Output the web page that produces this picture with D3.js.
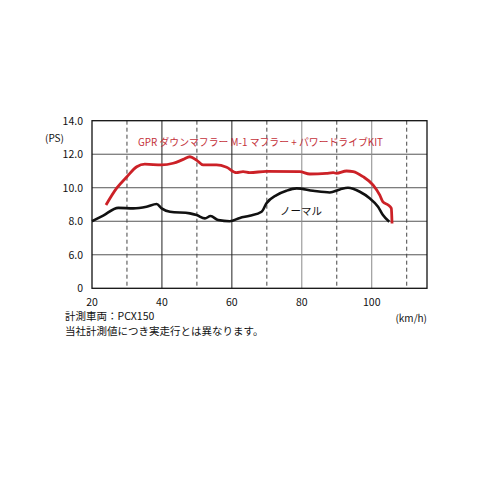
<!DOCTYPE html>
<html lang="ja">
<head>
<meta charset="UTF-8">
<title>PCX150 power chart</title>
<script src="https://d3js.org/d3.v7.min.js"></script>
<style>
  body { margin: 0; background: #fff; }
  text { font-family: "Noto Sans CJK JP", "DejaVu Sans", sans-serif; }
</style>
</head>
<body>
<div id="chart"></div>
<script>
// speed (km/h) and power (PS)
const kitSpeed = [24, 27, 30, 32.8, 35.1, 39.9, 43.2, 46.1, 48, 49.9, 51.8, 55.6, 58.5, 61.3, 63.2, 65.1, 69.9, 79.4, 82.3, 87, 89, 89.9, 92.8, 94.7, 97.5, 100.4, 102.3, 103.2, 104.7, 105.6, 105.8];
const kitPower = [8.97, 9.96, 10.66, 11.25, 11.41, 11.36, 11.46, 11.69, 11.85, 11.65, 11.36, 11.36, 11.22, 10.9, 10.96, 10.9, 10.98, 10.96, 10.82, 10.86, 10.9, 10.86, 11.0, 10.96, 10.66, 10.16, 9.56, 9.16, 8.97, 8.77, 7.87];

const normalSpeed = [20, 23.2, 27.5, 31.8, 35.6, 38.5, 39.9, 42.3, 48, 49.9, 52.3, 53.9, 56.1, 59.4, 62.3, 65.1, 68.5, 69.9, 72.8, 75.6, 78.5, 83.2, 88, 90.9, 93.2, 96.6, 99.4, 101.8, 103.2, 105];
const normalPower = [8.0, 8.34, 8.8, 8.77, 8.87, 9.03, 8.77, 8.57, 8.47, 8.37, 8.17, 8.31, 8.07, 8.0, 8.2, 8.33, 8.57, 9.07, 9.56, 9.82, 9.96, 9.82, 9.72, 9.9, 10.0, 9.76, 9.37, 8.87, 8.37, 7.97];

const xTicks = [20, 40, 60, 80, 100];
const xDashed = [30, 50, 70, 90, 110];
const yTicks = [14, 12, 10, 8, 6, 4];
const yTickLabels = ["14.0", "12.0", "10.0", "8.0", "6.0", "0"];

const kitLabel = "GPR ダウンマフラー M-1 マフラー + パワードライブKIT";
const normalLabel = "ノーマル";
const notes = ["計測車両：PCX150", "当社計測値につき実走行とは異なります。"];

const W = 500, H = 500;
const plot = {left: 92, right: 427, top: 120.7, bottom: 288.3};

const svg = d3.select("#chart").append("svg")
    .attr("width", W)
    .attr("height", H);

const x = d3.scaleLinear().domain([20, 115.8]).range([plot.left, plot.right]);
const y = d3.scaleLinear().domain([4, 14]).range([plot.bottom, plot.top]);

// horizontal grid lines
svg.append("g")
  .selectAll("line")
  .data(yTicks.filter(d => d > 4 && d < 14))
  .join("line")
    .attr("x1", plot.left).attr("x2", plot.right)
    .attr("y1", d => y(d)).attr("y2", d => y(d))
    .attr("stroke", "#555")
    .attr("stroke-width", 1);

// solid vertical lines
svg.append("g")
  .selectAll("line")
  .data(xTicks.filter(d => d > 20))
  .join("line")
    .attr("x1", d => x(d)).attr("x2", d => x(d))
    .attr("y1", plot.top).attr("y2", plot.bottom)
    .attr("stroke", d => d >= 80 ? "#8a8a8a" : "#222")
    .attr("stroke-width", 1);

// dashed vertical lines
svg.append("g")
  .selectAll("line")
  .data(xDashed)
  .join("line")
    .attr("x1", d => x(d)).attr("x2", d => x(d))
    .attr("y1", plot.top).attr("y2", plot.bottom)
    .attr("stroke", "#444")
    .attr("stroke-width", 1)
    .attr("stroke-dasharray", "4,3");

// frame
svg.append("rect")
    .attr("x", plot.left).attr("y", plot.top)
    .attr("width", plot.right - plot.left).attr("height", plot.bottom - plot.top)
    .attr("fill", "none")
    .attr("stroke", "#111")
    .attr("stroke-width", 1.3);

// y tick labels
svg.append("g")
  .selectAll("text")
  .data(yTicks)
  .join("text")
    .attr("x", 83)
    .attr("y", d => y(d) + 4)
    .attr("text-anchor", "end")
    .attr("font-size", 10.5)
    .attr("fill", "#111")
    .text((d, i) => yTickLabels[i]);

svg.append("text")
    .attr("x", 45).attr("y", 142)
    .attr("font-size", 10)
    .attr("fill", "#111")
    .text("(PS)");

// x tick labels
svg.append("g")
  .selectAll("text")
  .data(xTicks)
  .join("text")
    .attr("x", d => x(d))
    .attr("y", 306)
    .attr("text-anchor", "middle")
    .attr("font-size", 10.5)
    .attr("fill", "#111")
    .text(d => d);

svg.append("text")
    .attr("x", 427).attr("y", 322)
    .attr("text-anchor", "end")
    .attr("font-size", 10)
    .attr("fill", "#111")
    .text("(km/h)");

const line = d3.line()
    .x(d => x(d[0]))
    .y(d => y(d[1]))
    .curve(d3.curveMonotoneX);

svg.append("path")
    .datum(normalSpeed.map((s, i) => [s, normalPower[i]]))
    .attr("fill", "none")
    .attr("stroke", "#111")
    .attr("stroke-width", 2.6)
    .attr("stroke-linejoin", "round")
    .attr("d", line);

svg.append("path")
    .datum(kitSpeed.map((s, i) => [s, kitPower[i]]))
    .attr("fill", "none")
    .attr("stroke", "#cc2127")
    .attr("stroke-width", 2.8)
    .attr("stroke-linejoin", "round")
    .attr("d", line);

// curve labels
svg.append("text")
    .attr("x", 138).attr("y", 146)
    .attr("font-size", 10)
    .attr("fill", "#c4313a")
    .attr("textLength", 245)
    .attr("lengthAdjust", "spacingAndGlyphs")
    .text(kitLabel);

svg.append("text")
    .attr("x", 280).attr("y", 215)
    .attr("font-size", 10.5)
    .attr("fill", "#111")
    .text(normalLabel);

// notes
svg.append("g")
  .selectAll("text")
  .data(notes)
  .join("text")
    .attr("x", 65)
    .attr("y", (d, i) => 320 + i * 15)
    .attr("font-size", 10.5)
    .attr("fill", "#111")
    .text(d => d);
</script>
</body>
</html>
